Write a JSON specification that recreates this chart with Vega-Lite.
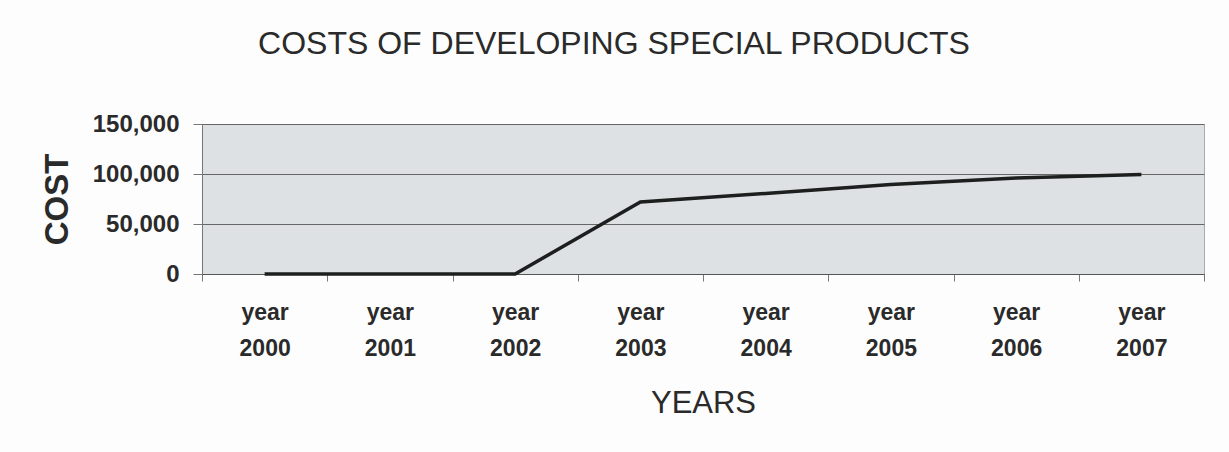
{
  "$schema": "https://vega.github.io/schema/vega-lite/v6.json",
  "width": 1002,
  "height": 150,
  "autosize": {"type": "none"},
  "padding": {"left": 202, "top": 124, "right": 25, "bottom": 178},
  "background": "#fdfdfd",
  "title": {
    "text": "COSTS OF DEVELOPING SPECIAL PRODUCTS",
    "font": "Liberation Sans",
    "fontSize": 32,
    "fontWeight": "normal",
    "color": "#2a2a2a",
    "anchor": "middle",
    "dx": -89,
    "offset": 51
  },
  "data": {
    "values": [
      {"year": "year 2000", "cost": 0},
      {"year": "year 2001", "cost": 0},
      {"year": "year 2002", "cost": 0},
      {"year": "year 2003", "cost": 72000},
      {"year": "year 2004", "cost": 80500},
      {"year": "year 2005", "cost": 89500},
      {"year": "year 2006", "cost": 96000},
      {"year": "year 2007", "cost": 99500}
    ]
  },
  "mark": {"type": "line", "color": "#1c1f1e", "strokeWidth": 3.5},
  "encoding": {
    "x": {
      "field": "year",
      "type": "ordinal",
      "scale": {"paddingInner": 0, "paddingOuter": 0},
      "axis": {
        "title": "YEARS",
        "titleFont": "Liberation Sans",
        "titleFontSize": 31,
        "titleFontWeight": "normal",
        "titleColor": "#2a2a2a",
        "titlePadding": 28,
        "labelAngle": 0,
        "labelExpr": "split(datum.label, ' ')",
        "labelFont": "Liberation Sans",
        "labelFontSize": 23,
        "labelFontWeight": "bold",
        "labelColor": "#2a2a2a",
        "labelLineHeight": 36,
        "labelPadding": 20,
        "tickBand": "extent",
        "tickSize": 7,
        "tickColor": "#777",
        "domainColor": "#555",
        "grid": false
      }
    },
    "y": {
      "field": "cost",
      "type": "quantitative",
      "scale": {"domain": [0, 150000]},
      "axis": {
        "title": "COST",
        "titleFont": "Liberation Sans",
        "titleFontSize": 33,
        "titleFontWeight": "bold",
        "titleColor": "#2a2a2a",
        "titlePadding": 18,
        "values": [0, 50000, 100000, 150000],
        "format": ",d",
        "labelFont": "Liberation Sans",
        "labelFontSize": 24,
        "labelFontWeight": "bold",
        "labelColor": "#2a2a2a",
        "labelPadding": 14,
        "tickSize": 9,
        "tickColor": "#777",
        "domainColor": "#777",
        "gridColor": "#666",
        "gridWidth": 1
      }
    }
  },
  "config": {
    "view": {"fill": "#dde1e4", "stroke": "#aaa"}
  }
}
